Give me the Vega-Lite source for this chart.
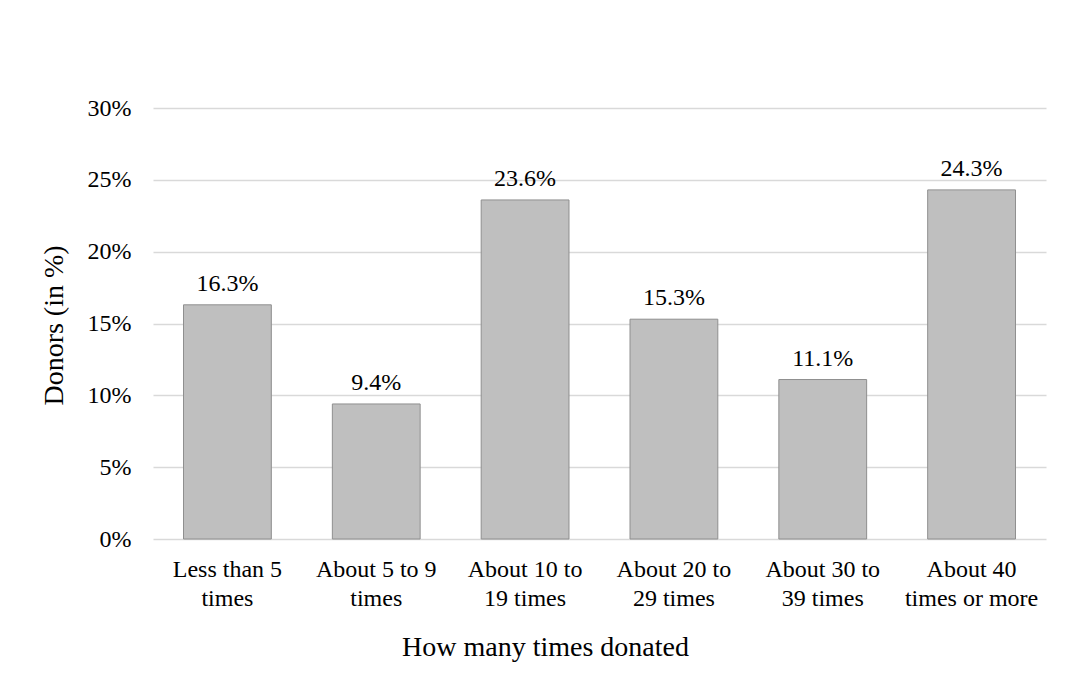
{
  "$schema": "https://vega.github.io/schema/vega-lite/v6.json",
  "width": 893,
  "height": 431,
  "autosize": {"type": "none"},
  "padding": {"left": 153, "top": 108, "right": 21, "bottom": 143},
  "background": "white",
  "config": {
    "view": {"stroke": null},
    "font": "Liberation Serif",
    "axis": {
      "labelFont": "Liberation Serif",
      "titleFont": "Liberation Serif",
      "labelColor": "#000000",
      "titleColor": "#000000",
      "titleFontWeight": "normal"
    }
  },
  "data": {
    "values": [
      {"times": "Less than 5 times", "share": 0.163},
      {"times": "About 5 to 9 times", "share": 0.094},
      {"times": "About 10 to 19 times", "share": 0.236},
      {"times": "About 20 to 29 times", "share": 0.153},
      {"times": "About 30 to 39 times", "share": 0.111},
      {"times": "About 40 times or more", "share": 0.243}
    ]
  },
  "encoding": {
    "x": {
      "field": "times",
      "type": "nominal",
      "sort": null,
      "scale": {"paddingInner": 0.41, "paddingOuter": 0.205},
      "axis": {
        "title": "How many times donated",
        "titleFontSize": 28,
        "titleBaseline": "alphabetic",
        "titleAlign": "center",
        "titleX": 392,
        "titleY": 116,
        "labelFontSize": 24,
        "labelAngle": 0,
        "labelPadding": 18,
        "labelLineHeight": 29,
        "labelBaseline": "top",
        "domain": false,
        "ticks": false,
        "labelExpr": "datum.value == 'Less than 5 times' ? ['Less than 5', 'times'] : datum.value == 'About 5 to 9 times' ? ['About 5 to 9', 'times'] : datum.value == 'About 10 to 19 times' ? ['About 10 to', '19 times'] : datum.value == 'About 20 to 29 times' ? ['About 20 to', '29 times'] : datum.value == 'About 30 to 39 times' ? ['About 30 to', '39 times'] : ['About 40', 'times or more']"
      }
    },
    "y": {
      "field": "share",
      "type": "quantitative",
      "scale": {"domain": [0, 0.3], "nice": false},
      "axis": {
        "title": "Donors (in %)",
        "titleFontSize": 28,
        "titleAngle": -90,
        "titleBaseline": "alphabetic",
        "titleAlign": "center",
        "titleX": -91,
        "titleY": 217,
        "values": [0, 0.05, 0.1, 0.15, 0.2, 0.25, 0.3],
        "format": ".0%",
        "labelFontSize": 24,
        "labelPadding": 22,
        "ticks": false,
        "domain": false,
        "grid": true,
        "gridColor": "#d9d9d9",
        "gridWidth": 1.5
      }
    }
  },
  "layer": [
    {
      "mark": {"type": "bar", "color": "#bfbfbf", "stroke": "#8f8f8f", "strokeWidth": 1}
    },
    {
      "mark": {"type": "text", "fontSize": 24, "baseline": "alphabetic", "dy": -14, "color": "#000000"},
      "encoding": {
        "text": {"field": "share", "type": "quantitative", "format": ".1%"}
      }
    }
  ]
}
